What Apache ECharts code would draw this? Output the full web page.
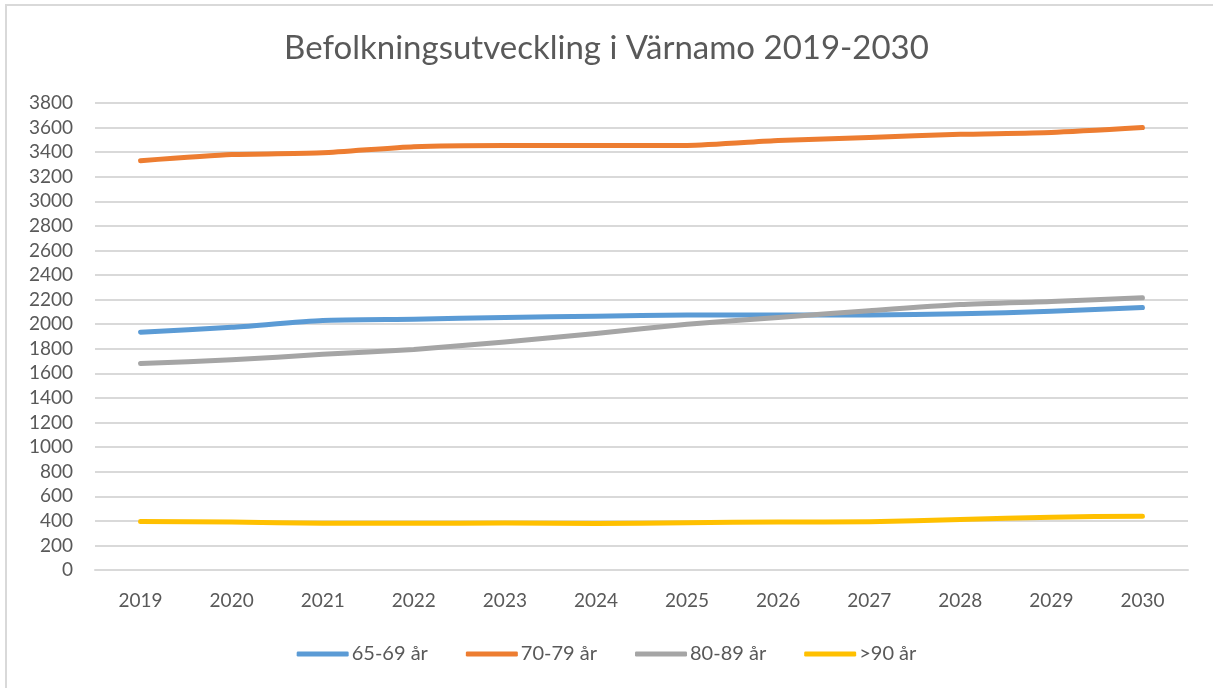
<!DOCTYPE html>
<html>
<head>
<meta charset="utf-8">
<script src="https://cdn.jsdelivr.net/npm/echarts@6/dist/echarts.min.js"></script>
<style>
  html, body { margin: 0; padding: 0; background: #fff; }
  #main { width: 1213px; height: 688px; }
</style>
</head>
<body>
<div id="main"></div>
<script>
// årtal
var years = ['2019', '2020', '2021', '2022', '2023', '2024', '2025', '2026', '2027', '2028', '2029', '2030'];
// åldersgrupper
var age6569 = [1935, 1975, 2030, 2040, 2055, 2065, 2075, 2075, 2075, 2085, 2105, 2135];
var age7079 = [3330, 3380, 3395, 3445, 3455, 3455, 3455, 3495, 3520, 3545, 3560, 3600];
var age8089 = [1680, 1710, 1755, 1795, 1855, 1925, 2000, 2055, 2110, 2160, 2185, 2215];
var age90 = [395, 390, 380, 380, 382, 378, 385, 390, 392, 410, 430, 438];

var myChart = echarts.init(document.getElementById('main'));

function lineSeries(name, data, color) {
    return {
        name: name,
        type: 'line',
        data: data,
        smooth: 0.2,
        symbol: 'none',
        lineStyle: { width: 5, color: color, cap: 'round', join: 'round' },
        itemStyle: { color: color }
    };
}

var option = {
    animation: false,
    backgroundColor: '#fff',
    textStyle: { fontFamily: 'Lato' },
    title: {
        text: 'Befolkningsutveckling i Värnamo 2019-2030',
        left: 'center',
        top: 27,
        textStyle: {
            color: '#595959',
            fontFamily: 'Lato',
            fontWeight: 'normal',
            fontSize: 33
        }
    },
    graphic: [{
        type: 'polyline',
        shape: { points: [[6, 700], [6, 5], [1220, 5]] },
        style: { stroke: '#d9d9d9', lineWidth: 2, fill: null }
    }],
    legend: {
        bottom: 19,
        left: 'center',
        itemWidth: 52,
        itemHeight: 5,
        itemGap: 38,
        icon: 'roundRect',
        textStyle: { color: '#595959', fontSize: 20, fontFamily: 'Lato', padding: [0, 0, 0, -2] },
        data: ['65-69 år', '70-79 år', '80-89 år', '>90 år']
    },
    grid: {
        left: 95,
        right: 25,
        top: 103,
        bottom: 118
    },
    xAxis: {
        type: 'category',
        data: years,
        boundaryGap: true,
        axisLine: { lineStyle: { color: '#d9d9d9', width: 2 } },
        axisTick: { show: false },
        axisLabel: { color: '#595959', fontSize: 19, margin: 21, fontFamily: 'Lato' }
    },
    yAxis: {
        type: 'value',
        min: 0,
        max: 3800,
        interval: 200,
        axisLine: { show: false },
        axisTick: { show: false },
        axisLabel: {
            color: '#595959', fontSize: 19, margin: 22, fontFamily: 'Lato',
            formatter: function (v) { return String(v); }
        },
        splitLine: { lineStyle: { color: '#d9d9d9', width: 2 } }
    },
    series: [
        lineSeries('65-69 år', age6569, '#5b9bd5'),
        lineSeries('70-79 år', age7079, '#ed7d31'),
        lineSeries('80-89 år', age8089, '#a5a5a5'),
        lineSeries('>90 år', age90, '#ffc000')
    ]
};
myChart.setOption(option);
</script>
</body>
</html>
